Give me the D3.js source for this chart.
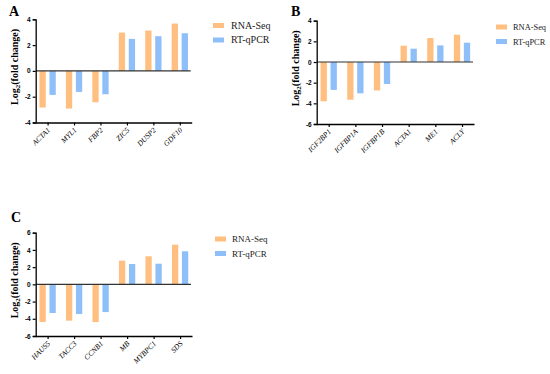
<!DOCTYPE html>
<html lang="en">
<head>
<meta charset="UTF-8">
<title>RNA-Seq vs RT-qPCR</title>
<script src="https://d3js.org/d3.v7.min.js"></script>
<style>
  body { margin: 0; background: #fff; }
  svg { display: block; }
</style>
</head>
<body>
<script>
    // values
    const genesA = ["ACTA1", "MYL1", "FBP2", "ZIC5", "DUSP2", "GDF10"];
    const rnaSeqA = [-2.84, -2.92, -2.43, 2.97, 3.13, 3.67];
    const qpcrA = [-1.86, -1.63, -1.81, 2.48, 2.69, 2.92];
    const ticksA = [-4, -2, 0, 2, 4];

    const genesB = ["IGF2BP1", "IGFBP1A", "IGFBP1B", "ACTA1", "ME1", "ACLY"];
    const rnaSeqB = [-3.80, -3.65, -2.75, 1.58, 2.32, 2.64];
    const qpcrB = [-2.70, -3.03, -2.13, 1.29, 1.61, 1.87];
    const ticksB = [-6, -4, -2, 0, 2, 4];

    const genesC = ["HAUS5", "TACC3", "CCNB1", "MB", "MYBPC1", "SDS"];
    const rnaSeqC = [-4.38, -4.22, -4.38, 2.75, 3.26, 4.61];
    const qpcrC = [-3.33, -3.45, -3.22, 2.36, 2.40, 3.84];
    const ticksC = [-6, -4, -2, 0, 2, 4, 6];

    const seriesNames = ["RNA-Seq", "RT-qPCR"];
    const colors = ["#FFBF80", "#8FBFF8"];

    const svg = d3.select("body").append("svg")
        .attr("width", 550)
        .attr("height", 374);

    // panel layout (pixel boxes), data attached from the arrays above
    const panels = [
        { letter: "A", genes: genesA, rna: rnaSeqA, qpcr: qpcrA, ticks: ticksA,
          x0: 35.7, x1: 191.7, yTop: 19.3, yBot: 122.5, lx: 9, ly: 16,
          legX: 213, legY: 23, legFont: 10 },
        { letter: "B", genes: genesB, rna: rnaSeqB, qpcr: qpcrB, ticks: ticksB,
          x0: 316.7, x1: 474, yTop: 20.7, yBot: 124, lx: 291, ly: 16,
          legX: 496, legY: 24.5, legFont: 8.4 },
        { letter: "C", genes: genesC, rna: rnaSeqC, qpcr: qpcrC, ticks: ticksC,
          x0: 35.7, x1: 192, yTop: 232.7, yBot: 336, lx: 11, ly: 222,
          legX: 215, legY: 236.5, legFont: 9 }
    ];

    panels.forEach(p => {
        const g = svg.append("g");

        const x = d3.scalePoint()
            .domain(p.genes)
            .range([p.x0, p.x1])
            .padding(0.45);

        const y = d3.scaleLinear()
            .domain(d3.extent(p.ticks))
            .range([p.yBot, p.yTop]);

        const barW = 6.3;
        const offs = [-5, 5];

        // bars
        [p.rna, p.qpcr].forEach((vals, si) => {
            g.selectAll(null)
                .data(vals)
                .enter()
                .append("rect")
                .attr("x", (d, i) => x(p.genes[i]) + offs[si] - barW / 2)
                .attr("y", d => Math.min(y(d), y(0)))
                .attr("width", barW)
                .attr("height", d => Math.abs(y(d) - y(0)))
                .attr("fill", colors[si]);
        });

        // zero line
        g.append("line")
            .attr("x1", p.x0).attr("x2", p.x1 - 1)
            .attr("y1", y(0)).attr("y2", y(0))
            .attr("stroke", "#333").attr("stroke-width", 1.2);

        // y axis
        const yAxis = g.append("g")
            .attr("transform", `translate(${p.x0},0)`)
            .call(d3.axisLeft(y).tickValues(p.ticks).tickSize(3).tickPadding(2).tickFormat(d3.format("d")));
        yAxis.select(".domain").attr("stroke", "#000").attr("stroke-width", 1.3);
        yAxis.selectAll(".tick line").attr("stroke", "#000").attr("stroke-width", 1.2);
        yAxis.selectAll("text")
            .attr("font-family", "Liberation Sans, Arial, sans-serif")
            .attr("font-weight", "bold")
            .attr("font-size", "6.5px")
            .attr("fill", "#000")
            .text(d => d < 0 ? "-" + Math.abs(d) : d);

        // x axis
        const xAxis = g.append("g")
            .attr("transform", `translate(0,${p.yBot})`)
            .call(d3.axisBottom(x).tickSize(3).tickSizeOuter(0).tickFormat(""));
        xAxis.select(".domain").attr("stroke", "#000").attr("stroke-width", 1.3);
        xAxis.selectAll(".tick line").attr("stroke", "#000").attr("stroke-width", 1.2);

        g.selectAll(null)
            .data(p.genes)
            .enter()
            .append("text")
            .attr("transform", d => `translate(${x(d) + 3},${p.yBot + 8}) rotate(-45)`)
            .attr("text-anchor", "end")
            .attr("font-family", "Liberation Serif, Times New Roman, serif")
            .attr("font-style", "italic")
            .attr("font-size", "7.5px")
            .attr("fill", "#000")
            .text(d => d);

        // y label
        const yl = g.append("text")
            .attr("transform", `translate(${p.x0 - 18},${(p.yTop + p.yBot) / 2 - 4}) rotate(-90)`)
            .attr("text-anchor", "middle")
            .attr("font-family", "Liberation Serif, Times New Roman, serif")
            .attr("font-weight", "bold")
            .attr("font-size", "10px")
            .attr("fill", "#000");
        yl.append("tspan").text("Log");
        yl.append("tspan").attr("font-size", "7px").attr("dy", 2).text("2");
        yl.append("tspan").attr("dy", -2).text("(fold change)");

        // panel letter
        g.append("text")
            .attr("x", p.lx).attr("y", p.ly)
            .attr("font-family", "Liberation Serif, Times New Roman, serif")
            .attr("font-weight", "bold")
            .attr("font-size", "14px")
            .text(p.letter);

        // legend
        const leg = g.append("g").attr("transform", `translate(${p.legX},${p.legY})`);
        seriesNames.forEach((name, i) => {
            leg.append("rect")
                .attr("x", 0).attr("y", i * 14.5)
                .attr("width", 11).attr("height", 5)
                .attr("fill", colors[i]);
            leg.append("text")
                .attr("x", p.legFont < 10 ? 17 : 18).attr("y", i * 14.5 + 5.5)
                .attr("font-family", "Liberation Serif, Times New Roman, serif")
                .attr("font-size", p.legFont + "px")
                .attr("fill", "#222")
                .text(name);
        });
    });
</script>
</body>
</html>
